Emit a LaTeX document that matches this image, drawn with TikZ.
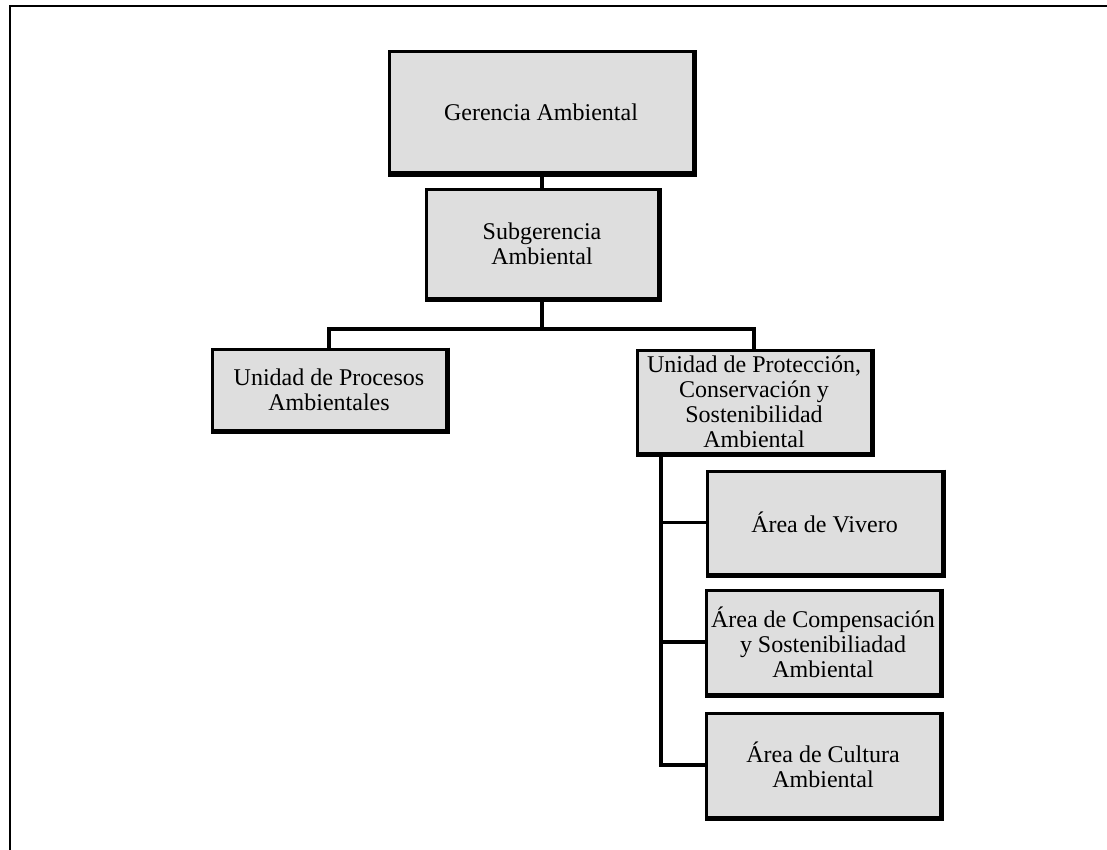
\documentclass[tikz,border=0pt]{standalone}
\usepackage{fontspec}
\setmainfont{Liberation Serif}
\begin{document}
\begin{tikzpicture}[x=1pt,y=-1pt,
  orgbox/.style={draw=black, line width=3pt, fill=black!13, inner sep=0pt,
    align=center, font=\fontsize{24}{25}\selectfont},
  link/.style={draw=black, line width=3.5pt},
  edge/.style={draw=black, line width=5pt}]
  \useasboundingbox (0,0) rectangle (1107,850);
  % page frame (top and left edges)
  \draw[line width=2pt] (10,850) -- (10,6) -- (1107,6);

  % boxes
  \node[orgbox, minimum width=304pt, minimum height=121pt] (G)  at (541,112.5) {Gerencia Ambiental};
  \node[orgbox, minimum width=232pt, minimum height=108pt] (S)  at (542,244)   {Subgerencia\\Ambiental};
  \node[orgbox, minimum width=234pt, minimum height=81pt]  (P)  at (329,389.5) {Unidad de Procesos\\Ambientales};
  \node[orgbox, minimum width=234pt, minimum height=103pt] (PC) at (754,401.5) {Unidad de Protección,\\Conservación y\\Sostenibilidad\\Ambiental};
  \node[orgbox, minimum width=235pt, minimum height=103pt] (V)  at (824.5,522.5) {Área de Vivero};
  \node[orgbox, minimum width=234pt, minimum height=104pt] (C)  at (823,642)   {Área de Compensación\\y Sostenibiliadad\\Ambiental};
  \node[orgbox, minimum width=234pt, minimum height=104pt] (CU) at (823,765)   {Área de Cultura\\Ambiental};

  % heavier right and bottom edges
  \foreach \n in {G,S,P,PC,V,C,CU}
    \draw[edge, line join=miter] (\n.north east) -- (\n.south east) -- (\n.south west);

  % connectors
  \coordinate (bar) at (542,329);
  \coordinate (trunk) at (661,0);
  \draw[link] (S.north) -- (S.north |- G.south);
  \draw[link] (S.south) -- (bar);
  \draw[link, line join=miter] (P.north) |- (bar) -| (PC.north);
  \draw[link, line join=miter] (trunk |- PC.south) |- (CU.west);
  \draw[link] (trunk |- V.west) -- (V.west);
  \draw[link] (trunk |- C.west) -- (C.west);
\end{tikzpicture}
\end{document}
